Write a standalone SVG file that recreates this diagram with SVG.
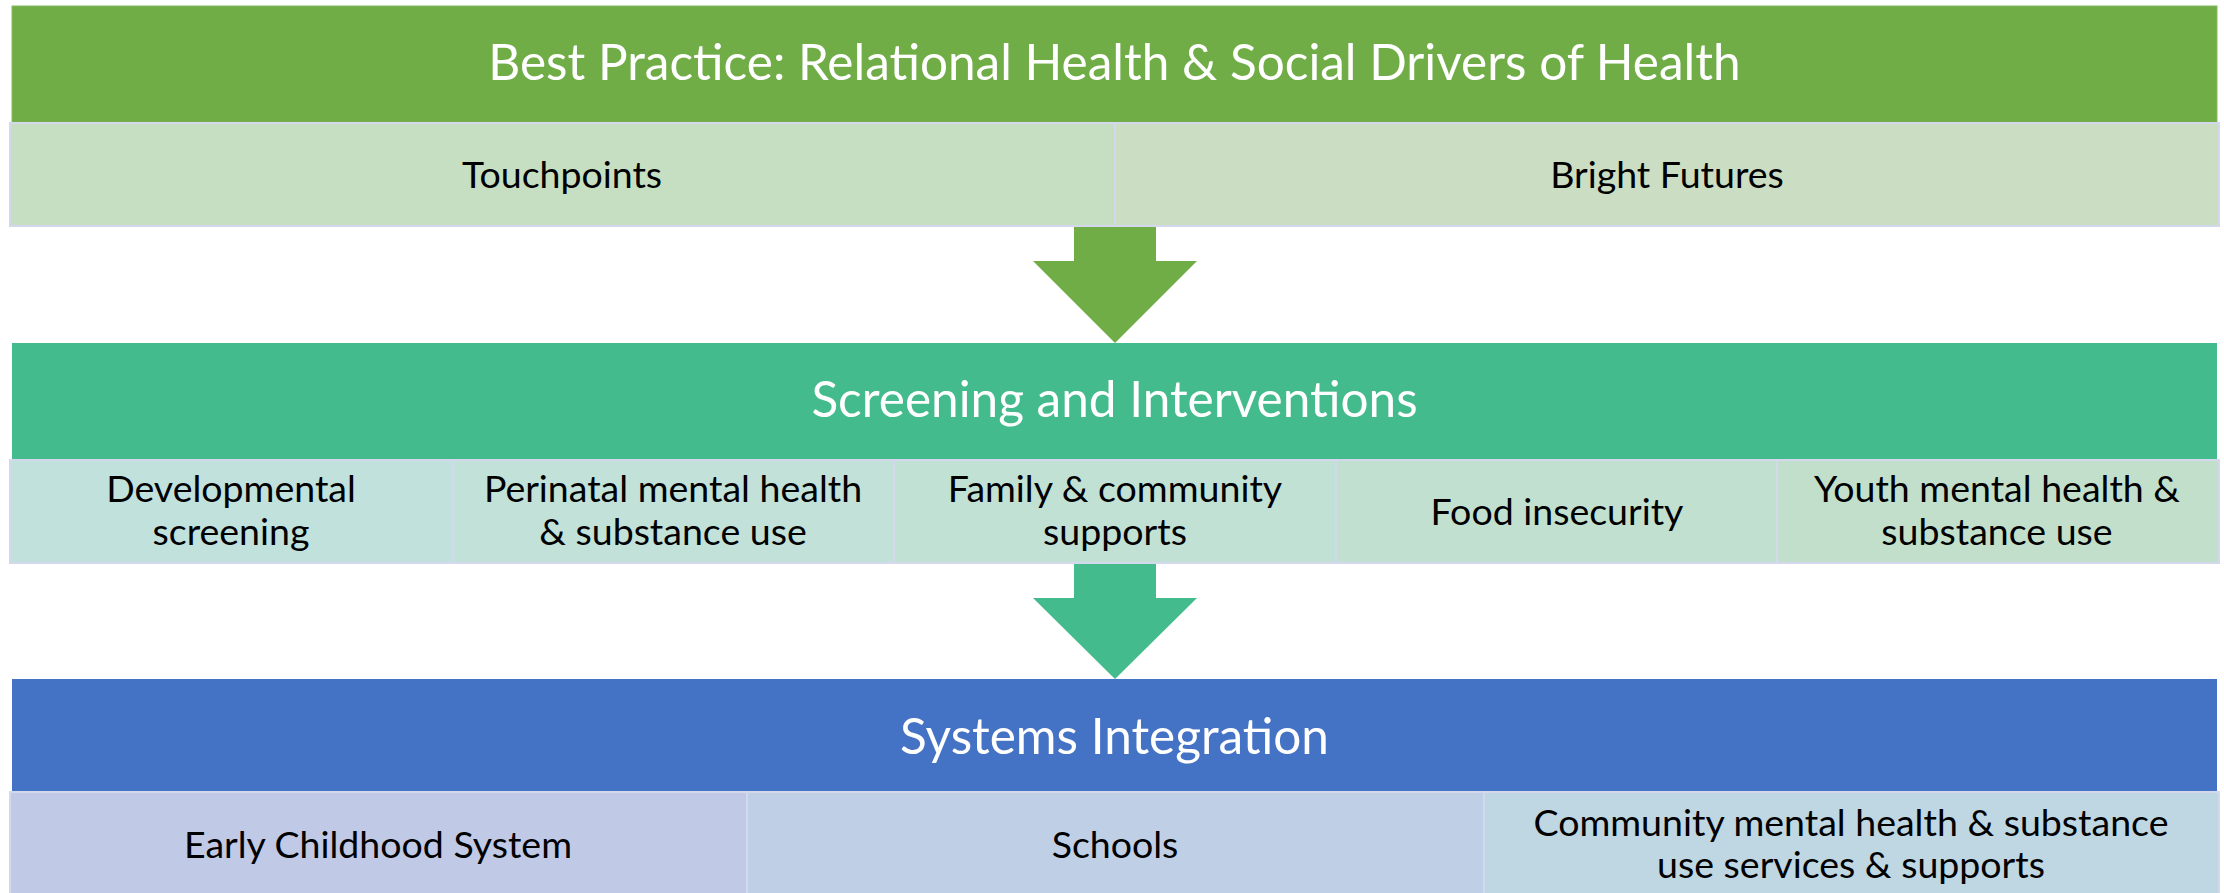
<svg xmlns="http://www.w3.org/2000/svg" width="2224" height="893" viewBox="0 0 2224 893">
<style>
.hdr{font-family:Lato,"Open Sans","Liberation Sans",sans-serif;font-size:49.5px;fill:#ffffff;text-anchor:middle}
.sub{font-family:Lato,"Open Sans","Liberation Sans",sans-serif;font-size:37.5px;fill:#000000;text-anchor:middle}
.cell{stroke:#D3D8EC;stroke-width:2}
</style>
<rect width="2224" height="893" fill="#ffffff"/>
<g id="connectors">
<polygon id="arrow1" points="1074,226 1156,226 1156,261 1197,261 1115,343 1033,261 1074,261" fill="#70AD47"/>
<polygon id="arrow2" points="1074,563 1156,563 1156,598 1197,598 1115,679 1033,598 1074,598" fill="#43BB8D"/>
</g>
<g id="best-practice">
<rect x="12" y="6" width="2205" height="117" fill="#70AD47" stroke="#84BA63" stroke-width="1"/>
<text class="hdr" x="1114.5" y="80">Best Practice: Relational Health &amp; Social Drivers of Health</text>
</g>
<g id="touchpoints">
<rect class="cell" x="10" y="123" width="1105" height="103" fill="#C6DFC3"/>
<text class="sub" x="562" y="188">Touchpoints</text>
</g>
<g id="bright-futures">
<rect class="cell" x="1115" y="123" width="1104" height="103" fill="#CBDDC2"/>
<text class="sub" x="1667" y="188">Bright Futures</text>
</g>
<g id="screening">
<rect x="12" y="343" width="2205" height="117" fill="#43BB8D"/>
<text class="hdr" x="1114.5" y="417">Screening and Interventions</text>
</g>
<g id="developmental">
<rect class="cell" x="10" y="460" width="443" height="103" fill="#C1E1DD"/>
<text class="sub" x="231" y="502">Developmental</text>
<text class="sub" x="231" y="545">screening</text>
</g>
<g id="perinatal">
<rect class="cell" x="453" y="460" width="441" height="103" fill="#C1E1D9"/>
<text class="sub" x="673" y="502">Perinatal mental health</text>
<text class="sub" x="673" y="545">&amp; substance use</text>
</g>
<g id="family">
<rect class="cell" x="894" y="460" width="442" height="103" fill="#C1E1D5"/>
<text class="sub" x="1115" y="502">Family &amp; community</text>
<text class="sub" x="1115" y="545">supports</text>
</g>
<g id="food">
<rect class="cell" x="1336" y="460" width="441" height="103" fill="#C1E0D0"/>
<text class="sub" x="1557" y="525">Food insecurity</text>
</g>
<g id="youth">
<rect class="cell" x="1777" y="460" width="442" height="103" fill="#C2DFCB"/>
<text class="sub" x="1997" y="502">Youth mental health &amp;</text>
<text class="sub" x="1997" y="545">substance use</text>
</g>
<g id="systems">
<rect x="12" y="679" width="2205" height="113" fill="#4472C4"/>
<text class="hdr" x="1114.5" y="754">Systems Integration</text>
</g>
<g id="early-childhood">
<rect class="cell" x="10" y="792" width="737" height="103" fill="#C0C9E5"/>
<text class="sub" x="378" y="858">Early Childhood System</text>
</g>
<g id="schools">
<rect class="cell" x="747" y="792" width="737" height="103" fill="#BFCFE5"/>
<text class="sub" x="1115" y="858">Schools</text>
</g>
<g id="community">
<rect class="cell" x="1484" y="792" width="735" height="103" fill="#BFD6E3"/>
<text class="sub" x="1851" y="836">Community mental health &amp; substance</text>
<text class="sub" x="1851" y="878">use services &amp; supports</text>
</g>
</svg>
